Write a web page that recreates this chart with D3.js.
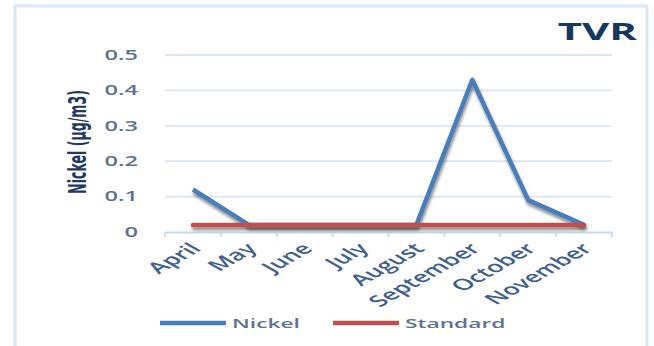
<!DOCTYPE html>
<html>
<head>
<meta charset="utf-8">
<script src="https://cdn.jsdelivr.net/npm/d3@7"></script>
<style>
  body { margin: 0; background: #fff; }
  text { font-family: "Open Sans", Lato, sans-serif; }
</style>
</head>
<body>
<svg id="chart" width="654" height="346"></svg>
<script>
  // data
  var months = ['April','May','June','July','August','September','October','November'];
  var nickel = [0.12, 0.02, 0.02, 0.02, 0.02, 0.43, 0.09, 0.02];
  var standard = [0.02, 0.02, 0.02, 0.02, 0.02, 0.02, 0.02, 0.02];
  var yTicks = [0, 0.1, 0.2, 0.3, 0.4, 0.5];

  var SX = 1.75; // picture is stretched sideways, text too
  var blue = '#4a7ebb', red = '#c0504d';

  var svg = d3.select('#chart');

  var defs = svg.append('defs');
  var f = defs.append('filter').attr('id','shadow')
    .attr('filterUnits','userSpaceOnUse')
    .attr('x',0).attr('y',0).attr('width',654).attr('height',346);
  f.append('feDropShadow').attr('dx',1).attr('dy',3).attr('stdDeviation',1.6)
    .attr('flood-color','#000').attr('flood-opacity',0.45);

  // outer frame
  svg.append('rect')
    .attr('x',15).attr('y',6).attr('width',632).attr('height',360)
    .style('fill','#fff').style('stroke','#dce7f5').style('stroke-width',3);

  var x = d3.scaleBand().domain(months).range([165,612]);
  var y = d3.scaleLinear().domain([0,0.5]).range([232,55]);

  // gridlines
  svg.append('g').selectAll('line')
    .data(yTicks.slice(1))
    .enter().append('line')
    .attr('x1',165).attr('x2',612)
    .attr('y1',d=>y(d)).attr('y2',d=>y(d))
    .style('stroke','#dbe5f3').style('stroke-width',1.8);

  // y tick labels
  svg.append('g').selectAll('text')
    .data(yTicks)
    .enter().append('text')
    .text(d=>d===0?'0':d3.format('.1f')(d))
    .attr('transform',d=>'translate(138,'+y(d)+') scale('+SX+',1)')
    .attr('dy','0.36em')
    .style('text-anchor','end')
    .style('font-size','13.5px')
    .style('font-weight','600')
    .style('fill','#5c7294');

  // x axis
  var xAxis = d3.axisBottom(x).tickSize(0).tickFormat('');
  var ax = svg.append('g').attr('transform','translate(0,232)').call(xAxis);
  ax.select('.domain').style('stroke','#c9daf0').style('stroke-width',1.8);
  svg.append('g').selectAll('line')
    .data(d3.range(months.length+1))
    .enter().append('line')
    .attr('x1',i=>165+i*x.step()).attr('x2',i=>165+i*x.step())
    .attr('y1',232).attr('y2',237)
    .style('stroke','#c9daf0').style('stroke-width',1.8);

  // x labels
  svg.append('g').selectAll('text')
    .data(months)
    .enter().append('text')
    .text(d=>d)
    .attr('transform',d=>'translate('+(x(d)+x.bandwidth()/2-4)+',242) scale('+SX+',1) rotate(-45)')
    .attr('dy','0.7em')
    .style('text-anchor','end')
    .style('font-size','15.5px')
    .style('font-weight','600')
    .style('fill','#3f5f8f');

  var line = d3.line()
    .x((d,i)=>x(months[i])+x.bandwidth()/2)
    .y(d=>y(d));

  svg.append('path').datum(nickel)
    .attr('d',line)
    .attr('filter','url(#shadow)')
    .style('fill','none').style('stroke',blue).style('stroke-width',4.5)
    .style('stroke-linejoin','round');
  svg.append('path').datum(standard)
    .attr('d',line)
    .attr('filter','url(#shadow)')
    .style('fill','none').style('stroke',red).style('stroke-width',4.5)
    .style('stroke-linecap','round');

  // title
  svg.append('text').text('TVR')
    .attr('transform','translate(637,40) scale('+SX+',1)')
    .style('text-anchor','end')
    .style('font-size','24px')
    .style('font-weight','bold')
    .style('fill','#17375e');

  // y axis title
  svg.append('text').text('Nickel (\u00b5g/m3)')
    .attr('transform','translate(77,142) scale('+SX+',1) rotate(-90)')
    .attr('dy','0.35em')
    .style('text-anchor','middle')
    .style('font-size','14px')
    .style('font-weight','bold')
    .style('font-family','"Liberation Sans Narrow","DejaVu Sans Condensed",sans-serif')
    .style('fill','#1f3864');

  // legend
  var legend = [{name:'Nickel',color:blue,x:160},{name:'Standard',color:red,x:333}];
  var lg = svg.append('g').selectAll('g')
    .data(legend)
    .enter().append('g')
    .attr('transform',d=>'translate('+d.x+',323)');
  lg.append('line')
    .attr('x1',0).attr('x2',66).attr('y1',0).attr('y2',0)
    .style('stroke',d=>d.color).style('stroke-width',4.5);
  lg.append('text')
    .text(d=>d.name)
    .attr('transform','translate(72,0) scale('+SX+',1)')
    .attr('dy','0.36em')
    .style('font-size','13px')
    .style('font-weight','600')
    .style('fill','#5c7294');
</script>
</body>
</html>
